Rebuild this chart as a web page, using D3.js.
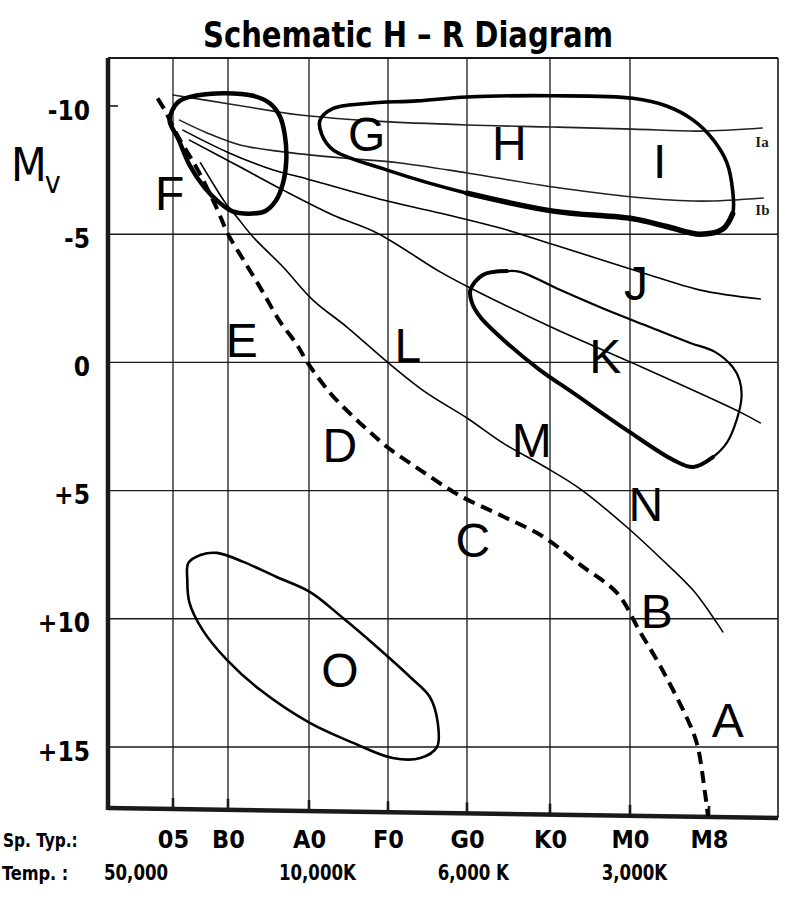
<!DOCTYPE html>
<html>
<head>
<meta charset="utf-8">
<script src="https://cdn.jsdelivr.net/npm/d3@7"></script>
<style>
  body { margin: 0; background: #fff; }
  svg { display: block; }
  .hand { font-family: "Liberation Sans Narrow", "DejaVu Sans Condensed", sans-serif; font-weight: bold; fill: #000; }
  .region { font-family: "Liberation Sans", Arial, sans-serif; font-size: 48px; fill: #000; }
</style>
</head>
<body>
<div class="hrchart"></div>
<script>
// Spectral types along the bottom (numeric index: O=0, B=10, A=20 ... M=60)
var spTypes = ["05", "B0", "A0", "F0", "G0", "K0", "M0", "M8"];
var spIndex = [5, 10, 20, 30, 40, 50, 60, 68];

var tempLabels = ["50,000", "10,000K", "6,000 K", "3,000K"];
var tempIndex = [1.6, 21, 40.7, 60.4];

var mvTicks = [-10, -5, 0, 5, 10, 15];
var mvTickLabels = ["-10", "-5", "0", "+5", "+10", "+15"];

// Curves as [spectral index, Mv]
var mainSequence = [[3.6, -10.3], [4.3, -9.8], [5.6, -8.7], [7, -7.7], [8.1, -6.8], [9.1, -5.9], [10, -5.0],
  [12.1, -3.9], [14.2, -2.8], [16.4, -1.6], [18.5, -0.7], [19.8, 0], [22.7, 1.2], [25.2, 2.0], [27.3, 2.6],
  [29.9, 3.3], [34.1, 4.2], [39.1, 5.2], [44.3, 6.0], [49.2, 6.8], [53.8, 7.9], [58.4, 9.0], [61, 10.5],
  [63, 11.8], [65.8, 13.9], [66.8, 14.9], [67.6, 16.8], [67.9, 17.7]];

var fBlob = [[4.9, -9.8], [5.6, -10.2], [7, -10.4], [9.7, -10.5], [13.1, -10.4], [15.2, -10.1], [16.4, -9.6],
  [17.0, -8.9], [17.2, -7.9], [16.8, -7.0], [15.9, -6.3], [14.6, -5.9], [12.5, -5.8], [10.5, -5.9],
  [9.3, -6.2], [7.9, -6.8], [6.5, -7.7], [5.5, -8.7], [4.7, -9.4]];

var ghiBlob = [[21.4, -9.45], [23.0, -9.9], [27.3, -10.1], [33.7, -10.2], [40, -10.35], [50.4, -10.4],
  [60.3, -10.3], [63.7, -10.0], [66.4, -9.45], [68.4, -8.7], [69.8, -7.8], [70.4, -6.7], [70.4, -5.8],
  [69.4, -5.2], [67.1, -5.0], [63.7, -5.3], [60.3, -5.6], [50.4, -5.9], [40, -6.6], [29.9, -7.5],
  [23.0, -8.3], [21.6, -8.9]];

var kBlob = [[40.4, -2.82], [41.9, -3.41], [44.8, -3.56], [46.4, -3.53], [51.3, -2.82], [57.1, -2.04],
  [62.0, -1.38], [66.1, -0.76], [68.6, -0.41], [70.4, 0.18], [71.1, 0.69], [71.3, 1.35], [70.8, 2.25],
  [69.8, 3.14], [68.4, 3.69], [66.4, 4.08], [64.4, 3.81], [59.6, 2.64], [52.9, 1.19], [48.8, 0.3],
  [44.8, -0.76], [41.6, -1.77], [40.6, -2.32]];

var oBlob = [[6.4, 7.82], [7.5, 7.51], [9, 7.43], [11.9, 7.78], [16.0, 8.37], [20.1, 8.95], [24.3, 9.97],
  [28.6, 11.1], [32.8, 12.27], [35.3, 13.05], [36.3, 14.06], [36.2, 15.0], [34.1, 15.43], [30.6, 15.43],
  [25.6, 14.84], [20.1, 14.06], [14.0, 12.78], [9.9, 11.6], [7.7, 10.44], [6.5, 9.38], [6.3, 8.49]];

var iaLine = [[5, -10.43], [10.2, -10.08], [15.6, -9.8], [18.9, -9.65], [28.6, -9.41], [40, -9.26],
  [50.4, -9.18], [60.3, -9.1], [67.1, -9.02], [73.4, -9.14]];

var ibLine = [[5.6, -9.45], [8.1, -8.95], [11.5, -8.48], [16.8, -8.21], [24.3, -7.97], [31.5, -7.78],
  [40, -7.39], [50.4, -6.84], [60.3, -6.45], [67.1, -6.29], [73.5, -6.41]];

var jLine = [[5.9, -9.06], [9.9, -8.21], [15.6, -7.5], [18.9, -7.23], [29.4, -6.33], [37.6, -5.75],
  [44.0, -5.24], [50.6, -4.58], [61.0, -3.53], [67.1, -2.82], [73.2, -2.47]];

var kLine = [[6.5, -8.67], [11.5, -7.62], [16.8, -6.72], [23.0, -5.75], [28.6, -5.05], [36.6, -3.53],
  [40.4, -2.9], [50.4, -1.34], [60, -0.02], [71.1, 1.93], [73.2, 2.36]];

var lLine = [[7.5, -7.78], [8.6, -7.0], [9.7, -6.26], [11.1, -5.67], [13.1, -4.89], [16.8, -3.72],
  [20.5, -2.43], [24.8, -1.38], [29.9, -0.02], [34.7, 1.15], [40, 2.17], [44.3, 3.14], [49.2, 4.04],
  [53.8, 4.94], [59.6, 6.42], [63.0, 7.6], [66.4, 8.89], [68.8, 10.16], [69.4, 10.51]];

var regionLetters = ["A", "B", "C", "D", "E", "F", "G", "H", "I", "J", "K", "L", "M", "N", "O"];
var regionIdx = [69.9, 62.7, 40.7, 23.9, 11.7, 4.7, 27.3, 45.1, 63, 60.6, 56.9, 32.5, 47.8, 61.6, 23.9];
var regionMv = [14.6, 10.35, 7.6, 3.9, -0.2, -5.95, -8.25, -7.9, -7.2, -2.45, 0.4, 0.0, 3.7, 6.2, 12.65];

var classLabels = ["Ia", "Ib"];
var classIdx = [72.7, 72.7];
var classMv = [-8.4, -5.75];

// Layout
var width = 800, height = 912;
var frame = {left: 108, right: 778, top: 58, bottomLeft: 808, bottomRight: 818};

// spectral classes are not evenly spaced on the drawing, so the scale is piecewise
var x = d3.scaleLinear()
    .domain([-0.9].concat(spIndex, [75]))
    .range([108, 173, 228, 309, 388, 467, 550, 630, 709, 778]);

var y = d3.scaleLinear()
    .domain([-10, 15])
    .range([106, 747]);

// the hand drawn bottom axis slopes a little
function bottomAt(px) {
    return frame.bottomLeft + (px - frame.left) / (frame.right - frame.left) * (frame.bottomRight - frame.bottomLeft);
}

var svg = d3.select(".hrchart").append("svg")
    .attr("width", width)
    .attr("height", height);

// Title
svg.append("text")
    .attr("class", "hand")
    .attr("x", 408)
    .attr("y", 47)
    .attr("text-anchor", "middle")
    .attr("font-size", 36)
    .attr("textLength", 410)
    .attr("lengthAdjust", "spacingAndGlyphs")
    .text("Schematic H \u2013 R Diagram");

// Grid
var grid = svg.append("g").attr("stroke", "#1a1a1a").attr("fill", "none");

grid.selectAll(".hgrid")
    .data(mvTicks.filter(function(d) { return d > -10; }))
    .enter().append("line")
        .attr("x1", frame.left)
        .attr("x2", frame.right)
        .attr("y1", function(d) { return y(d); })
        .attr("y2", function(d) { return y(d); })
        .attr("stroke-width", 1.4);

grid.append("line")
    .attr("x1", frame.left).attr("x2", frame.left + 10)
    .attr("y1", y(-10)).attr("y2", y(-10))
    .attr("stroke-width", 1.6);

grid.selectAll(".vgrid")
    .data(spIndex.slice(0, 7))
    .enter().append("line")
        .attr("x1", function(d) { return x(d); })
        .attr("x2", function(d) { return x(d); })
        .attr("y1", frame.top)
        .attr("y2", function(d) { return bottomAt(x(d)); })
        .attr("stroke-width", 1.3);

grid.selectAll(".btick")
    .data(spIndex)
    .enter().append("line")
        .attr("x1", function(d) { return x(d); })
        .attr("x2", function(d) { return x(d); })
        .attr("y1", function(d) { return bottomAt(x(d)) - 11; })
        .attr("y2", function(d) { return bottomAt(x(d)); })
        .attr("stroke-width", 2.6);

// Frame
grid.append("line").attr("x1", frame.left).attr("x2", frame.right)
    .attr("y1", frame.top).attr("y2", frame.top).attr("stroke-width", 2.2);
grid.append("line").attr("x1", frame.right).attr("x2", frame.right)
    .attr("y1", frame.top).attr("y2", frame.bottomRight).attr("stroke-width", 1.6);
grid.append("line").attr("x1", frame.left).attr("x2", frame.left)
    .attr("y1", frame.top).attr("y2", frame.bottomLeft + 2).attr("stroke-width", 4.5);
grid.append("line").attr("x1", frame.left).attr("x2", frame.right)
    .attr("y1", frame.bottomLeft).attr("y2", frame.bottomRight).attr("stroke-width", 4.5);

// Curves
var openLine = d3.line()
    .x(function(d) { return x(d[0]); })
    .y(function(d) { return y(d[1]); })
    .curve(d3.curveCatmullRom.alpha(0.5));

var closedLine = d3.line()
    .x(function(d) { return x(d[0]); })
    .y(function(d) { return y(d[1]); })
    .curve(d3.curveCatmullRomClosed.alpha(0.5));

var curves = svg.append("g").attr("fill", "none").attr("stroke", "#000")
    .attr("stroke-linecap", "round").attr("stroke-linejoin", "round");

[iaLine, ibLine].forEach(function(c) {
    curves.append("path").attr("d", openLine(c)).attr("stroke", "#222").attr("stroke-width", 1.6);
});
[jLine, kLine, lLine].forEach(function(c) {
    curves.append("path").attr("d", openLine(c)).attr("stroke-width", 1.6);
});

curves.append("path").attr("d", closedLine(fBlob)).attr("stroke-width", 4.5);
curves.append("path").attr("d", closedLine(ghiBlob)).attr("stroke-width", 3.6);
curves.append("path").attr("d", openLine(ghiBlob.slice(12, 19))).attr("stroke-width", 5.5);
curves.append("path").attr("d", closedLine(kBlob)).attr("stroke-width", 2.2);
curves.append("path").attr("d", openLine(kBlob.slice(14).concat(kBlob.slice(0, 3)))).attr("stroke-width", 4);
curves.append("path").attr("d", closedLine(oBlob)).attr("stroke-width", 2.6);

curves.append("path")
    .attr("d", openLine(mainSequence))
    .attr("stroke-width", 4)
    .attr("stroke-linecap", "butt")
    .attr("stroke-dasharray", "12,7");

// Region letters
svg.append("g").selectAll("text")
    .data(regionLetters)
    .enter().append("text")
        .attr("class", "region")
        .attr("text-anchor", "middle")
        .attr("x", function(d, i) { return x(regionIdx[i]); })
        .attr("y", function(d, i) { return y(regionMv[i]); })
        .text(function(d) { return d; });

svg.append("g").selectAll("text")
    .data(classLabels)
    .enter().append("text")
        .attr("font-family", "'Liberation Serif', serif")
        .attr("font-weight", "bold")
        .attr("font-size", 15)
        .attr("fill", "#222")
        .attr("x", function(d, i) { return x(classIdx[i]); })
        .attr("y", function(d, i) { return y(classMv[i]); })
        .text(function(d) { return d; });

// Y axis labels
var yAxis = svg.append("g")
    .attr("transform", "translate(" + frame.left + ",0)")
    .call(d3.axisLeft(y).tickValues(mvTicks).tickSize(0).tickPadding(18)
        .tickFormat(function(d, i) { return mvTickLabels[i]; }));
yAxis.select(".domain").remove();
yAxis.selectAll("text").attr("class", "hand").attr("font-size", 26).attr("dy", "0.5em");

// M_v axis title
var mv = svg.append("text")
    .attr("x", 11)
    .attr("y", 181)
    .attr("font-family", "'Liberation Sans Narrow', 'DejaVu Sans Condensed', sans-serif")
    .attr("font-size", 46);
mv.append("tspan").text("M");
mv.append("tspan").attr("font-size", 30).attr("dy", 12).attr("dx", -2).text("v");

// X axis: spectral types and temperatures
var xAxis = svg.append("g")
    .attr("transform", "translate(0,820)")
    .call(d3.axisBottom(x).tickValues(spIndex).tickSize(0).tickPadding(10)
        .tickFormat(function(d, i) { return spTypes[i]; }));
xAxis.select(".domain").remove();
xAxis.selectAll("text").attr("class", "hand").attr("font-size", 25);

var tAxis = svg.append("g")
    .attr("transform", "translate(0,864)")
    .call(d3.axisBottom(x).tickValues(tempIndex).tickSize(0).tickPadding(0)
        .tickFormat(function(d, i) { return tempLabels[i]; }));
tAxis.select(".domain").remove();
tAxis.selectAll("text").attr("class", "hand").attr("font-size", 22)
    .attr("transform", "scale(0.84,1)");

svg.append("text").attr("class", "hand")
    .attr("transform", "translate(3,847) scale(0.9,1)")
    .attr("font-size", 19).text("Sp. Typ.:");
svg.append("text").attr("class", "hand")
    .attr("transform", "translate(2,880) scale(0.9,1)")
    .attr("font-size", 20).text("Temp. :");
</script>
</body>
</html>
